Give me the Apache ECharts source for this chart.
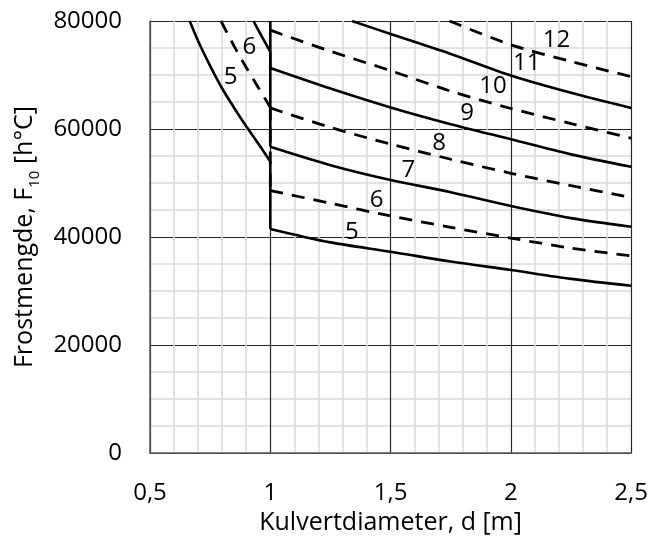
<!DOCTYPE html>
<html>
<head>
<meta charset="utf-8">
<script src="https://cdn.jsdelivr.net/npm/echarts@6/dist/echarts.min.js"></script>
<style>
html,body{margin:0;padding:0;background:#fff;}
#chart{width:651px;height:548px;}
</style>
</head>
<body>
<div id="chart"></div>
<script>
// ---- data (d [m], F10 [h°C]) ----
const xTicks = [0.5, 1, 1.5, 2, 2.5];
const xTickLabels = ['0,5', '1', '1,5', '2', '2,5'];
const yTicks = [0, 20000, 40000, 60000, 80000];

// left branches (d < 1)
const left5 = [[0.665,80000],[0.7,76300],[0.75,71700],[0.8,67500],[0.85,63900],[0.9,60500],[0.95,57300],[1.0,54000]];
const left6 = [[0.795,80000],[0.85,75300],[0.9,71400],[0.95,67700],[1.0,64000]];
const left7 = [[0.93,80000],[0.965,77100],[1.0,74300]];
// right branches (d >= 1), odd = solid, even = dashed
const right5 = [[1.0,41500],[1.25,39000],[1.5,37280],[1.75,35450],[2.0,33890],[2.25,32250],[2.5,30980]];
const right6 = [[1.0,48600],[1.25,46250],[1.5,43900],[1.75,41800],[2.0,39800],[2.25,37950],[2.5,36500]];
const right7 = [[1.0,56700],[1.25,53300],[1.5,50560],[1.75,48300],[2.0,45740],[2.25,43500],[2.5,41900]];
const right8 = [[1.0,63900],[1.25,60300],[1.5,57200],[1.75,54400],[2.0,51800],[2.25,49500],[2.5,47300]];
const right9 = [[1.0,71300],[1.25,67500],[1.5,64000],[1.75,60900],[2.0,58100],[2.25,55300],[2.5,53000]];
const right10 = [[1.0,78300],[1.25,74400],[1.5,70800],[1.75,67000],[2.0,63800],[2.25,61000],[2.5,58300]];
const right11 = [[1.34,80000],[1.5,77600],[1.75,73900],[2.0,69900],[2.25,66700],[2.5,63900]];
const right12 = [[1.745,80000],[2.0,75600],[2.25,72500],[2.5,69700]];
// vertical jumps at d = 1: [from, to]
const jump5 = [[1.0,54000],[1.0,41500]];
const jump6 = [[1.0,64000],[1.0,48600]];
const jump7 = [[1.0,74300],[1.0,56700]];
const jump9 = [[1.0,80000],[1.0,71300]];

// curve labels: [d, F, text]
const curveLabels = [
  [0.835,69630,'5'],[0.913,75190,'6'],
  [1.339,40930,'5'],[1.442,46850,'6'],[1.574,52410,'7'],[1.702,57410,'8'],
  [1.818,62960,'9'],[1.926,67960,'10'],[2.066,72220,'11'],[2.190,76480,'12']
];

const FONT = 'Open Sans';
const solidCurves = [left5, left7, right5, right7, right9, right11];
const dashedCurves = [left6, right6, right8, right10, right12];
const solidJumps = [jump5, jump7, jump9];
const dashedJumps = [jump6];

const series = [];
const solidStyle = {color:'#000', width:2.6, type:'solid'};
const dashStyle = {color:'#000', width:2.8, type:[13,9]};
solidCurves.forEach(d => series.push({type:'line', data:d, symbol:'none', smooth:0.3, lineStyle:solidStyle, z:5, silent:true}));
dashedCurves.forEach(d => series.push({type:'line', data:d, symbol:'none', smooth:0.3, lineStyle:dashStyle, z:4, silent:true}));
solidJumps.forEach(d => series.push({type:'line', data:d, symbol:'none', lineStyle:solidStyle, z:5, silent:true}));
dashedJumps.forEach(d => series.push({type:'line', data:d, symbol:'none', lineStyle:dashStyle, z:4, silent:true}));
series.push({
  type:'scatter', symbol:'circle', symbolSize:0.01, itemStyle:{color:'#000'}, silent:true, z:6,
  data: curveLabels.map(p => ({value:[p[0], p[1]], name:p[2]})),
  label:{show:true, position:'inside', formatter:p => p.name, color:'#000', opacity:1,
    textBorderWidth:0, fontSize:24, fontFamily:FONT}
});

const chart = echarts.init(document.getElementById('chart'), null, {renderer:'canvas'});
chart.setOption({
  animation:false,
  backgroundColor:'#fff',
  grid:{left:148, right:19, top:21, bottom:95, containLabel:false},
  xAxis:{
    type:'value', min:xTicks[0], max:xTicks[xTicks.length-1], interval:0.5,
    axisLine:{show:true, lineStyle:{color:'#595959', width:1.5}},
    axisTick:{show:false},
    axisLabel:{margin:28, color:'#000', fontSize:24, fontFamily:FONT,
      formatter:v => { const i = xTicks.findIndex(t => Math.abs(t - v) < 1e-6); return i >= 0 ? xTickLabels[i] : ''; }},
    splitLine:{show:true, lineStyle:{color:'#262626', width:1.2}},
    minorTick:{show:false, splitNumber:5},
    minorSplitLine:{show:true, lineStyle:{color:'#d9d9d9', width:1.5}},
    name:'Kulvertdiameter, d [m]', nameLocation:'middle', nameGap:56,
    nameTextStyle:{color:'#000', fontSize:25, fontFamily:FONT}
  },
  yAxis:{
    type:'value', min:yTicks[0], max:yTicks[yTicks.length-1], interval:20000,
    axisLine:{show:true, lineStyle:{color:'#595959', width:1.5}},
    axisTick:{show:false},
    axisLabel:{margin:28, color:'#000', fontSize:24, fontFamily:FONT, formatter:v => String(v)},
    splitLine:{show:true, lineStyle:{color:'#262626', width:1.2}},
    minorTick:{show:false, splitNumber:4},
    minorSplitLine:{show:true, lineStyle:{color:'#d9d9d9', width:1.5}},
    name:'Frostmengde, F{sub|10} [h°C]', nameLocation:'middle', nameGap:108,
    nameTextStyle:{color:'#000', fontSize:25, fontFamily:FONT, lineHeight:34,
      rich:{sub:{fontSize:15, fontFamily:FONT, color:'#000', verticalAlign:'bottom'}}}
  },
  series: series
});
</script>
</body>
</html>
